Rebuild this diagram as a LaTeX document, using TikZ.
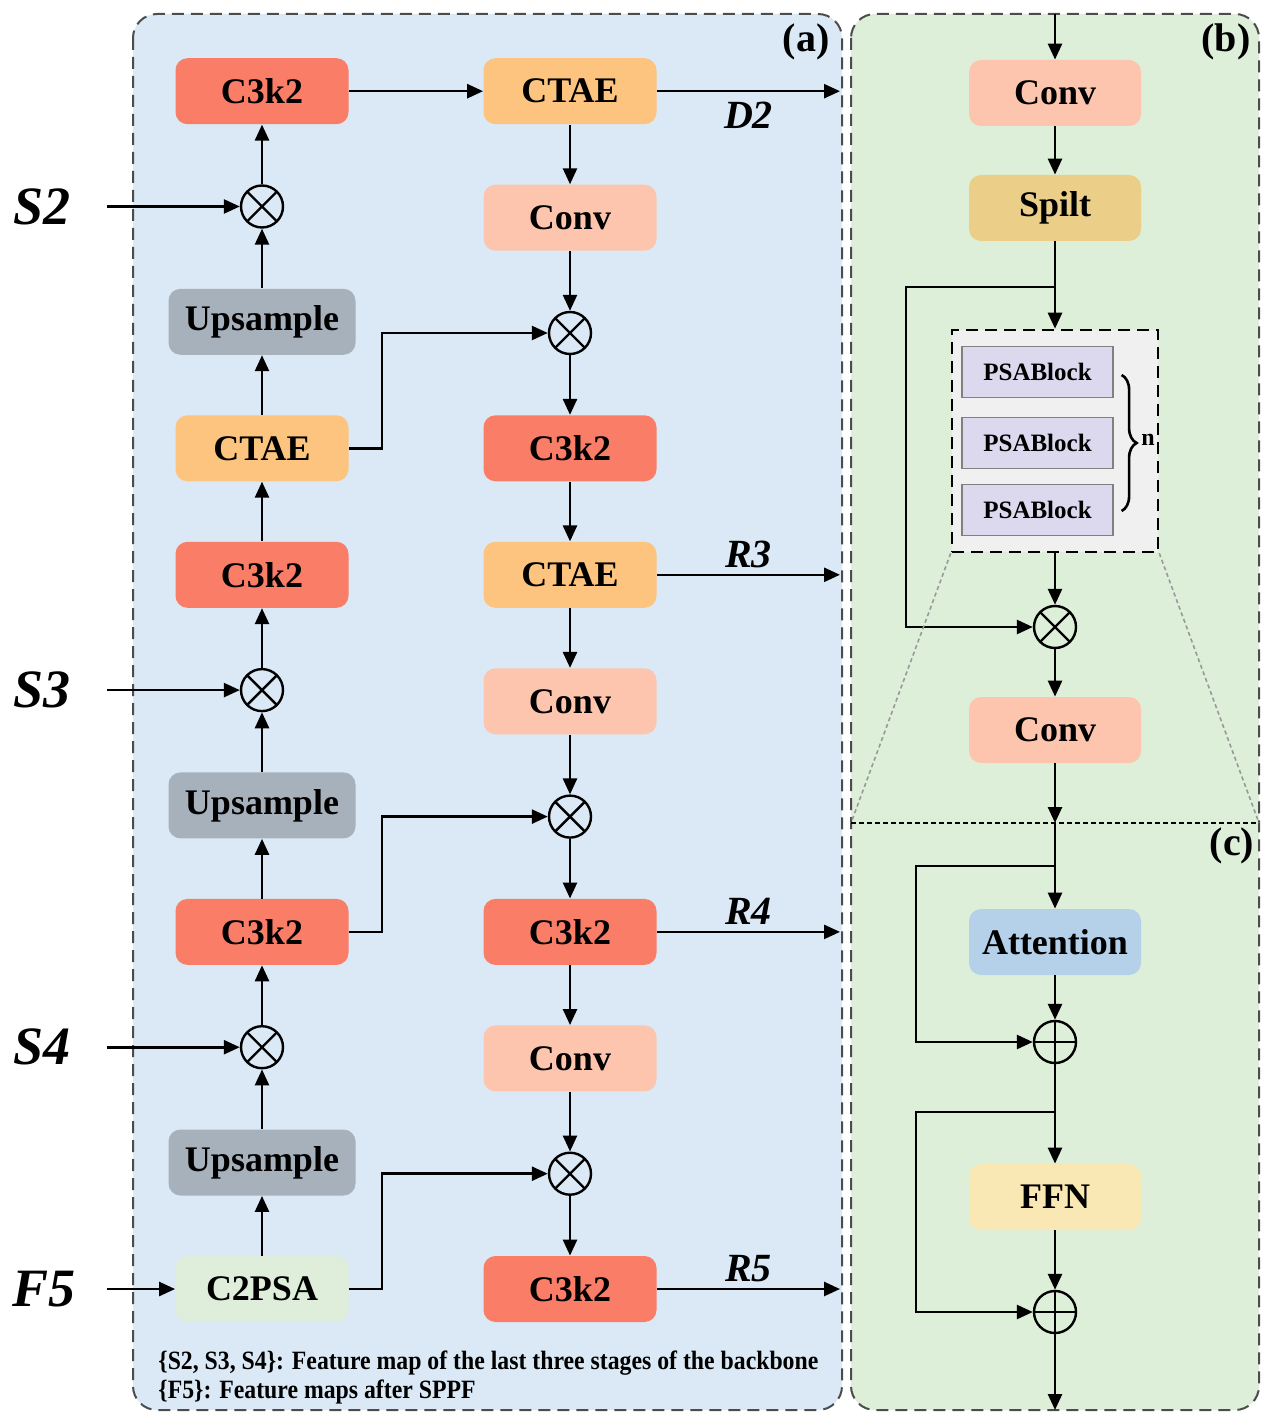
\documentclass[tikz,border=0pt]{standalone}
\usepackage{fontspec}
\setmainfont{Liberation Serif}
\newfontfamily\notebf[FakeStretch=0.9]{Liberation Serif Bold}
\usetikzlibrary{arrows.meta, positioning, decorations.pathreplacing}
\definecolor{panelA}{HTML}{DAE9F5}
\definecolor{panelB}{HTML}{DDEED9}
\definecolor{cCthree}{HTML}{FA7E67}
\definecolor{cCTAE}{HTML}{FDC47F}
\definecolor{cConv}{HTML}{FDC5AE}
\definecolor{cUp}{HTML}{A7B1BC}
\definecolor{cPSA}{HTML}{DEEEDB}
\definecolor{cSplit}{HTML}{EBCF89}
\definecolor{cAtt}{HTML}{B5D1EA}
\definecolor{cFFN}{HTML}{F9E8B3}
\definecolor{cBlock}{HTML}{DCD8EE}
\tikzset{
  box/.style={rectangle,rounded corners=6pt,align=center,inner sep=2pt,minimum width=86.5pt,minimum height=33pt,font=\bfseries\fontsize{18}{20}\selectfont},
  wide/.style={minimum width=93.5pt},
  bbox/.style={box,minimum width=86pt},
  mulnode/.style={circle,draw,line width=1.2pt,minimum size=21pt,inner sep=0pt,
    path picture={\draw[line width=1.2pt] (path picture bounding box.north west) -- (path picture bounding box.south east)
      (path picture bounding box.north east) -- (path picture bounding box.south west);}},
  addnode/.style={circle,draw,line width=1.2pt,minimum size=21pt,inner sep=0pt,
    path picture={\draw[line width=1pt] (path picture bounding box.north) -- (path picture bounding box.south)
      (path picture bounding box.west) -- (path picture bounding box.east);}},
  line/.style={-{Triangle[length=8pt,width=7pt]},line width=1.3pt},
  panel/.style={draw=black!70,dash pattern=on 6pt off 3.5pt,line width=1pt,rounded corners=12pt},
  inlabel/.style={font=\bfseries\itshape\fontsize{27}{30}\selectfont},
  outlabel/.style={inner sep=1pt,font=\bfseries\itshape\fontsize{20}{22}\selectfont},
  tag/.style={font=\bfseries\fontsize{20}{22}\selectfont},
  note/.style={anchor=west,inner sep=0pt,font=\notebf\fontsize{13.2}{15}\selectfont},
  psabox/.style={rectangle,draw,fill=black!6,dash pattern=on 6pt off 3.5pt,line width=1.3pt,minimum width=103pt,minimum height=111pt},
  psablk/.style={rectangle,draw=black!50,fill=cBlock,line width=0.6pt,minimum width=75.5pt,minimum height=25.5pt,inner sep=0pt,font=\bfseries\fontsize{12.5}{14}\selectfont}
}
\begin{document}
\begin{tikzpicture}[x=0.5pt,y=-0.5pt,node distance=29.85pt]
\useasboundingbox (0,0) rectangle (1271,1422);
% panels
\draw[panel,fill=panelA] (133,14) rectangle (842,1410);
\draw[panel,fill=panelB] (851,14) rectangle (1259,1410);

% (a) left column, bottom to top
\node[box,fill=cPSA] (c2psa) at (262,1289) {C2PSA};
\node[box,wide,fill=cUp,above=of c2psa] (up3) {Upsample};
\node[mulnode,above=of up3] (m4) {};
\node[box,fill=cCthree,above=of m4] (c3L3) {C3k2};
\node[box,wide,fill=cUp,above=of c3L3] (up2) {Upsample};
\node[mulnode,above=of up2] (m3) {};
\node[box,fill=cCthree,above=of m3] (c3L2) {C3k2};
\node[box,fill=cCTAE,above=of c3L2] (ctL) {CTAE};
\node[box,wide,fill=cUp,above=of ctL] (up1) {Upsample};
\node[mulnode,above=of up1] (m2) {};
\node[box,fill=cCthree,above=of m2] (c3L1) {C3k2};

% (a) right column, top to bottom
\node[box,fill=cCTAE] (ct1) at (c3L1 -| 570,0) {CTAE};
\node[box,fill=cConv,below=of ct1] (cv1) {Conv};
\node[mulnode,below=of cv1] (n1) {};
\node[box,fill=cCthree,below=of n1] (c3R1) {C3k2};
\node[box,fill=cCTAE,below=of c3R1] (ct2) {CTAE};
\node[box,fill=cConv,below=of ct2] (cv2) {Conv};
\node[mulnode,below=of cv2] (n2) {};
\node[box,fill=cCthree,below=of n2] (c3R2) {C3k2};
\node[box,fill=cConv,below=of c3R2] (cv3) {Conv};
\node[mulnode,below=of cv3] (n3) {};
\node[box,fill=cCthree,below=of n3] (c3R3) {C3k2};

% inputs
\node[inlabel] (lS2) at (m2 -| 42,0) {S2};
\node[inlabel] (lS3) at (m3 -| 42,0) {S3};
\node[inlabel] (lS4) at (m4 -| 42,0) {S4};
\node[inlabel] (lF5) at (c2psa -| 44,0) {F5};
\coordinate (iS2) at (m2 -| 107,0);
\coordinate (iS3) at (m3 -| 107,0);
\coordinate (iS4) at (m4 -| 107,0);
\coordinate (iF5) at (c2psa -| 107,0);
\draw[line] (iS2) -- (m2);
\draw[line] (iS3) -- (m3);
\draw[line] (iS4) -- (m4);
\draw[line] (iF5) -- (c2psa);

\foreach \a/\b in {c2psa/up3,up3/m4,m4/c3L3,c3L3/up2,up2/m3,m3/c3L2,c3L2/ctL,ctL/up1,up1/m2,m2/c3L1}
  \draw[line] (\a) -- (\b);
\foreach \a/\b in {ct1/cv1,cv1/n1,n1/c3R1,c3R1/ct2,ct2/cv2,cv2/n2,n2/c3R2,c3R2/cv3,cv3/n3,n3/c3R3}
  \draw[line] (\a) -- (\b);
\draw[line] (c3L1) -- (ct1);
\draw[line] (ctL.east) -- ++(33,0) |- (n1);
\draw[line] (c3L3.east) -- ++(33,0) |- (n2);
\draw[line] (c2psa.east) -- ++(33,0) |- (n3);

% outputs
\coordinate (oD2) at (ct1 -| 840,0);
\coordinate (oR3) at (ct2 -| 840,0);
\coordinate (oR4) at (c3R2 -| 840,0);
\coordinate (oR5) at (c3R3 -| 840,0);
\draw[line] (ct1) -- node[outlabel,below=4pt] (lD2) {D2} (oD2);
\draw[line] (ct2) -- node[outlabel,above=2pt] (lR3) {R3} (oR3);
\draw[line] (c3R2) -- node[outlabel,above=2pt] (lR4) {R4} (oR4);
\draw[line] (c3R3) -- node[outlabel,above=2pt] (lR5) {R5} (oR5);

% (b)
\node[bbox,fill=cConv] (cvB1) at (1055,93) {Conv};
\node[bbox,fill=cSplit] (spl) at (1055,208) {Spilt};
\node[psabox] (psa) at (1055,441) {};
\node[psablk] (pb1) at (1037.5,372) {PSABlock};
\node[psablk] (pb2) at (1037.5,443) {PSABlock};
\node[psablk] (pb3) at (1037.5,510) {PSABlock};
\draw[decorate,decoration={brace,amplitude=7.5pt},line width=1.3pt] (pb1.east) ++(8,3) coordinate (brT) (pb3.east) ++(8,1) coordinate (brB) (brT) -- (brB);
\node[font=\bfseries\fontsize{12}{14}\selectfont] (ln) at (1148,440) {n};
\node[mulnode] (mB) at (1055,627) {};
\node[bbox,fill=cConv] (cvB2) at (1055,730) {Conv};
\coordinate (bIn) at (1055,14);
\coordinate (sp1) at (1055,287);
\draw[line] (bIn) -- (cvB1);
\draw[line] (cvB1) -- (spl);
\draw[line] (spl) -- (psa);
\draw[line] (sp1) -- ++(-149,0) |- (mB);
\draw[line] (psa) -- (mB);
\draw[line] (mB) -- (cvB2);

% (c)
\coordinate (cL) at (851,823);
\coordinate (cR) at (1259,823);
\draw[black!40,dash pattern=on 2pt off 1.5pt,line width=0.8pt] (psa.south west) -- (cL) (psa.south east) -- (cR);
\draw[dash pattern=on 2.5pt off 1.5pt,line width=0.9pt] (cL) -- (cR);
\node[bbox,fill=cAtt] (att) at (1055,942) {Attention};
\node[addnode] (p1) at (1055,1042) {};
\node[bbox,fill=cFFN] (ffn) at (1055,1197) {FFN};
\node[addnode] (p2) at (1055,1312) {};
\coordinate (cIn) at (1055,823);
\coordinate (sp2) at (1055,866);
\coordinate (sp3) at (1055,1112);
\coordinate (cOut) at (1055,1410);
\draw[line] (cvB2) -- (cIn);
\draw[line] (cIn) -- (att);
\draw[line] (sp2) -- ++(-139,0) |- (p1);
\draw[line] (att) -- (p1);
\draw[line] (p1) -- (ffn);
\draw[line] (sp3) -- ++(-139,0) |- (p2);
\draw[line] (ffn) -- (p2);
\draw[line] (p2) -- (cOut);

% tags and notes
\node[tag] (ta) at (806,42) {(a)};
\node[tag] (tb) at (1226,42) {(b)};
\node[tag] (tc) at (1232,846) {(c)};
\node[note] (nt1) at (158,1363) {\{S2, S3, S4\}: Feature map of the last three stages of the backbone};
\node[note] (nt2) at (158,1392) {\{F5\}: Feature maps after SPPF};
\end{tikzpicture}
\end{document}
